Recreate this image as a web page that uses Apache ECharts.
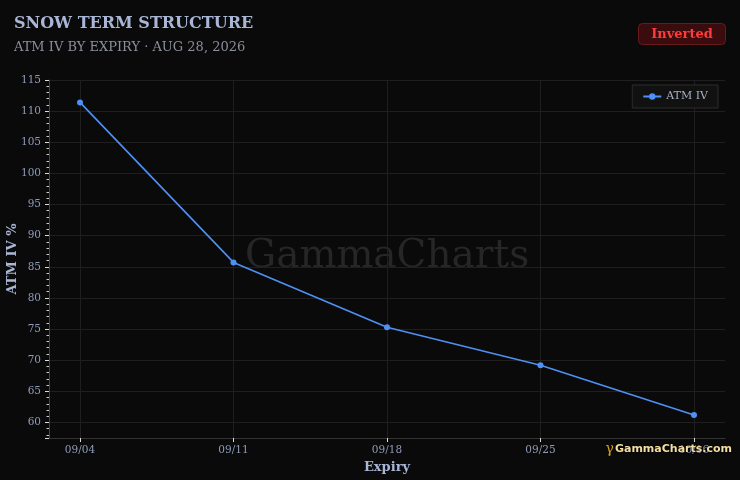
<!DOCTYPE html>
<html><head><meta charset="utf-8">
<script src="https://cdn.jsdelivr.net/npm/echarts@6/dist/echarts.min.js"></script>
<style>html,body{margin:0;padding:0;background:#0a0a0a}#c{width:740px;height:480px}</style>
</head><body><div id="c"></div>
<script>
const categories = ['09/04', '09/11', '09/18', '09/25', '10/16'];
const atmIV = [111.4, 85.7, 75.3, 69.2, 61.2];
const seriesName = 'ATM IV';
const titleText = 'SNOW TERM STRUCTURE';
const subtitleText = 'ATM IV BY EXPIRY · AUG 28, 2026';
const badgeText = 'Inverted';

const serif = '"DejaVu Serif", serif';
const chart = echarts.init(document.getElementById('c'));
const yMin = 57.5, yMax = 115;
chart.setOption({
  backgroundColor: '#0a0a0a',
  animation: false,
  title: {
    text: titleText, subtext: subtitleText, left: 9, top: 11, itemGap: 9,
    textStyle: { fontFamily: serif, fontWeight: 'bold', fontSize: 16, color: '#a9b6d6' },
    subtextStyle: { fontFamily: serif, fontSize: 13, color: '#8a8f99' }
  },
  legend: {
    data: [seriesName], right: 22, top: 85,
    backgroundColor: '#111111', borderColor: '#2c2c2c', borderWidth: 1,
    padding: [6, 10, 6, 10], itemWidth: 18, itemHeight: 8, itemGap: 6,
    textStyle: { fontFamily: serif, fontSize: 11, color: '#a9b0c4' }
  },
  graphic: [
    { type: 'group', right: 14, top: 23, children: [
      { type: 'rect', shape: { x: 0, y: 0, width: 87, height: 21, r: 4 },
        style: { fill: '#3a0c0e', stroke: '#6a1a1c', lineWidth: 1 } },
      { type: 'text', style: { x: 43.5, y: 11, text: badgeText, align: 'center', verticalAlign: 'middle',
        font: 'bold 13px "DejaVu Serif", serif', fill: '#ff3b3b' } }
    ]},
    { type: 'text', left: 245, top: 237, z: 0,
      style: { text: 'GammaCharts', font: '39px "DejaVu Serif", serif', fill: '#262626' } },
    { type: 'text', right: 8, top: 442, z: 100,
      style: { text: '{g|γ}{t|GammaCharts.com}', rich: {
        g: { font: '14px "DejaVu Serif", serif', fill: '#d4a017', padding: [0, 1, 0, 0] },
        t: { font: 'bold 11px "DejaVu Sans", sans-serif', fill: '#f3dfa2', textShadowColor: '#000', textShadowBlur: 2 }
      } } }
  ],
  grid: [
    { left: 49, right: 15, top: 80, bottom: 42, outerBoundsMode: 'none', containLabel: false },
    { left: 80, right: 46, top: 80, bottom: 42, outerBoundsMode: 'none', containLabel: false }
  ],
  xAxis: [
    { type: 'value', gridIndex: 0, min: 0, max: 1,
      axisLine: { show: true, lineStyle: { color: '#333' } },
      axisTick: { show: false }, axisLabel: { show: false }, splitLine: { show: false } },
    { type: 'category', gridIndex: 1, data: categories, boundaryGap: false,
      name: 'Expiry', nameLocation: 'middle', nameGap: 23, nameMoveOverlap: false,
      nameTextStyle: { fontFamily: serif, fontWeight: 'bold', fontSize: 13, color: '#a9b6d6' },
      axisLine: { show: false },
      axisTick: { show: true, length: 4, lineStyle: { color: '#dddddd' } },
      axisLabel: { fontFamily: serif, fontSize: 10.5, color: '#8f9bb8', margin: 7 },
      splitLine: { show: true, lineStyle: { color: '#1f1f1f' } } }
  ],
  yAxis: [
    { type: 'value', gridIndex: 0, min: yMin, max: yMax, splitNumber: 11,
      name: 'ATM IV %', nameLocation: 'middle', nameGap: 30, nameMoveOverlap: false,
      nameTextStyle: { fontFamily: serif, fontWeight: 'bold', fontSize: 13, color: '#a9b6d6' },
      axisLine: { show: true, lineStyle: { color: '#444' } },
      axisTick: { show: true, length: 4, lineStyle: { color: '#dddddd' } },
      minorTick: { show: true, splitNumber: 5, length: 2.5, lineStyle: { color: '#cccccc' } },
      axisLabel: { fontFamily: serif, fontSize: 10.5, color: '#8f9bb8', margin: 8,
        formatter: v => (Math.abs(v % 5) < 1e-6 ? String(v) : '') },
      splitLine: { show: true, lineStyle: { color: '#1f1f1f' } } },
    { type: 'value', gridIndex: 1, min: yMin, max: yMax, show: false, splitLine: { show: false } }
  ],
  series: [{
    name: seriesName, type: 'line', xAxisIndex: 1, yAxisIndex: 1, data: atmIV,
    symbol: 'circle', symbolSize: 6, showSymbol: true,
    lineStyle: { color: '#4f90f5', width: 1.6 },
    itemStyle: { color: '#4f90f5' }
  }]
});
</script></body></html>
